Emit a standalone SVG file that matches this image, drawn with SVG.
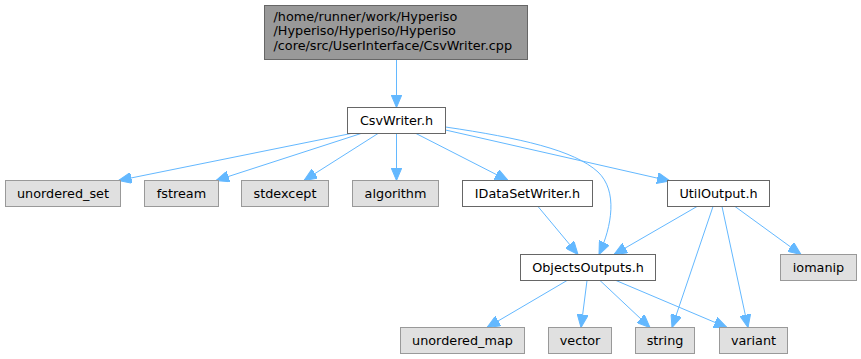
<svg xmlns="http://www.w3.org/2000/svg" width="861" height="359" viewBox="0 0 861 359">
<style>
  text { font-family: "DejaVu Sans", "Liberation Sans", sans-serif; font-size: 12.8px; fill: #000; }
  .c { text-anchor: middle; }
  .n rect { fill: #ffffff; stroke: #666666; stroke-width: 1; }
  .x rect { fill: #e0e0e0; stroke: #999999; stroke-width: 1; }
  .r rect { fill: #999999; stroke: #666666; stroke-width: 1; }
  #edges path { fill: none; stroke: #63b8ff; stroke-width: 1; marker-end: url(#arr); }
</style>
<defs>
  <marker id="arr" markerUnits="userSpaceOnUse" markerWidth="13" markerHeight="11" viewBox="0 0 13 11" refX="13" refY="5.5" orient="auto">
    <path d="M0,0 L13,5.5 L0,11 z" fill="#63b8ff" stroke="#63b8ff" stroke-width="1"/>
  </marker>
</defs>
<g id="edges">
  <path d="M396.5,59.5 L396.5,107.5"/>
  <path d="M351,133.5 L118.5,180.5"/>
  <path d="M361,133.5 L216,180.5"/>
  <path d="M378,133.5 L304,180.5"/>
  <path d="M396.5,133.5 L396.5,180.5"/>
  <path d="M416,133.5 L508,180.5"/>
  <path d="M445.5,130 L670,181"/>
  <path d="M445.5,127 C520,138 574,150 598,172 C618,191 612,226 599,254.5"/>
  <path d="M538,206.5 L578,254.5"/>
  <path d="M697,206.5 L614,254.5"/>
  <path d="M713,206.5 L672,327.5"/>
  <path d="M722,206.5 L748,327.5"/>
  <path d="M735,206.5 L801,254.5"/>
  <path d="M567,280.5 L487,327.5"/>
  <path d="M587,280.5 L581,327.5"/>
  <path d="M600,280.5 L650,327.5"/>
  <path d="M616,280.5 L727,327.5"/>
</g>
<g id="node_root" class="r">
  <rect x="264.5" y="5.5" width="263" height="54"/>
  <text x="273.5" y="20.5">/home/runner/work/Hyperiso</text>
  <text x="273.5" y="35.2">/Hyperiso/Hyperiso/Hyperiso</text>
  <text x="273.5" y="49.9">/core/src/UserInterface/CsvWriter.cpp</text>
</g>
<g id="node_csvwriter" class="n">
  <rect x="347.5" y="107.5" width="98" height="26"/>
  <text class="c" x="396.5" y="124.8">CsvWriter.h</text>
</g>
<g id="node_unordered_set" class="x">
  <rect x="5.5" y="180.5" width="115" height="26"/>
  <text class="c" x="63" y="197.8">unordered_set</text>
</g>
<g id="node_fstream" class="x">
  <rect x="144.5" y="180.5" width="74" height="26"/>
  <text class="c" x="181.5" y="197.8">fstream</text>
</g>
<g id="node_stdexcept" class="x">
  <rect x="241.5" y="180.5" width="87" height="26"/>
  <text class="c" x="285" y="197.8">stdexcept</text>
</g>
<g id="node_algorithm" class="x">
  <rect x="352.5" y="180.5" width="86" height="26"/>
  <text class="c" x="395.5" y="197.8">algorithm</text>
</g>
<g id="node_idatasetwriter" class="n">
  <rect x="462.5" y="180.5" width="130" height="26"/>
  <text class="c" x="527.5" y="197.8">IDataSetWriter.h</text>
</g>
<g id="node_utiloutput" class="n">
  <rect x="667.5" y="180.5" width="102" height="26"/>
  <text class="c" x="718.5" y="197.8">UtilOutput.h</text>
</g>
<g id="node_objectsoutputs" class="n">
  <rect x="520.5" y="254.5" width="135" height="26"/>
  <text class="c" x="588" y="271.8">ObjectsOutputs.h</text>
</g>
<g id="node_iomanip" class="x">
  <rect x="780.5" y="254.5" width="76" height="26"/>
  <text class="c" x="818.5" y="271.8">iomanip</text>
</g>
<g id="node_unordered_map" class="x">
  <rect x="400.5" y="327.5" width="124" height="26"/>
  <text class="c" x="462.5" y="344.8">unordered_map</text>
</g>
<g id="node_vector" class="x">
  <rect x="548.5" y="327.5" width="63" height="26"/>
  <text class="c" x="580" y="344.8">vector</text>
</g>
<g id="node_string" class="x">
  <rect x="635.5" y="327.5" width="59" height="26"/>
  <text class="c" x="665" y="344.8">string</text>
</g>
<g id="node_variant" class="x">
  <rect x="719.5" y="327.5" width="68" height="26"/>
  <text class="c" x="753.5" y="344.8">variant</text>
</g>
</svg>
